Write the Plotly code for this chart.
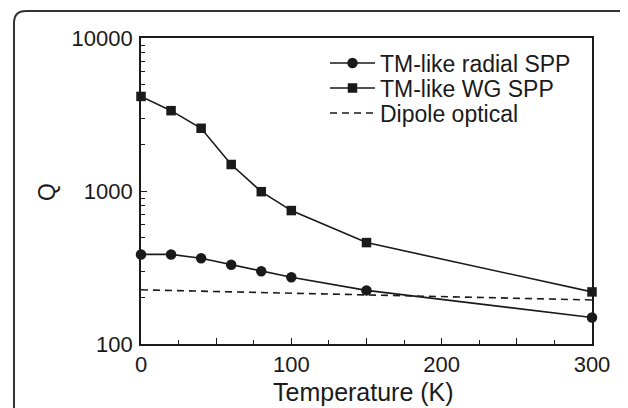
import plotly.graph_objects as go

temps_radial = [0, 20, 40, 60, 80, 100, 150, 300]
q_radial = [385, 385, 363, 330, 299, 273, 224, 149]
temps_wg = [0, 20, 40, 60, 80, 100, 150, 300]
q_wg = [4150, 3350, 2570, 1490, 990, 745, 460, 219]
temps_dipole = [0, 300]
q_dipole = [226, 194]

x_tickvals = [0, 50, 100, 150, 200, 250, 300]
x_ticktext = ["0", "", "100", "", "200", "", "300"]
x_minor = [25, 75, 125, 175, 225, 275]
y_tickvals = [100, 1000, 10000]
y_ticktext = ["100", "1000", "10000"]
y_minor = [200, 300, 400, 500, 600, 700, 800, 900,
           2000, 3000, 4000, 5000, 6000, 7000, 8000, 9000]

# page body has an 8px margin: figure is drawn 8px right/down of window origin
OFF = 8
W, H = 628 - OFF, 408 - OFF
L, R, T, B = 141, 592, 38, 344  # plot area in window pixels
pw, ph = R - L, B - T

def px(x):
    return (x - L) / pw

def py(y):
    return (B - y) / ph

ink = "#1a1a1a"
font = "Liberation Sans, Arial, sans-serif"

fig = go.Figure()
fig.add_trace(go.Scatter(x=temps_radial, y=q_radial, mode="lines+markers",
                         name="TM-like radial SPP", legend="legend",
                         line=dict(color=ink, width=1.6),
                         marker=dict(symbol="circle", size=10.5, color=ink),
                         cliponaxis=False))
fig.add_trace(go.Scatter(x=temps_wg, y=q_wg, mode="lines+markers",
                         name="TM-like WG SPP", legend="legend2",
                         line=dict(color=ink, width=1.6),
                         marker=dict(symbol="square", size=9.5, color=ink),
                         cliponaxis=False))
fig.add_trace(go.Scatter(x=temps_dipole, y=q_dipole, mode="lines",
                         name="Dipole optical", legend="legend3",
                         line=dict(color=ink, width=1.6, dash="7px,5px")))

axis_common = dict(showgrid=False, zeroline=False, showline=True, linecolor=ink,
                   linewidth=1.6, mirror=True, ticks="inside", tickcolor=ink,
                   tickwidth=1.3, ticklen=6,
                   tickfont=dict(family=font, size=22, color=ink))

fig.update_xaxes(range=[0, 300], tickmode="array", tickvals=x_tickvals,
                 ticktext=x_ticktext,
                 minor=dict(tickmode="array", tickvals=x_minor, ticks="inside",
                            ticklen=4, tickcolor=ink, tickwidth=1.3),
                 **axis_common)
fig.update_yaxes(type="log", range=[2, 4], tickmode="array", tickvals=y_tickvals,
                 ticktext=y_ticktext, ticklabelstandoff=2,
                 minor=dict(tickmode="array", tickvals=y_minor, ticks="inside",
                            ticklen=4, tickcolor=ink, tickwidth=1.3),
                 **axis_common)

fig.add_annotation(x=px(47), y=py(192), xref="paper", yref="paper", text="Q",
                   textangle=-90, showarrow=False, xanchor="center",
                   yanchor="middle",
                   font=dict(family=font, size=23, color=ink))
fig.add_annotation(x=px(363), y=py(392), xref="paper", yref="paper",
                   text="Temperature (K)", showarrow=False, xanchor="center",
                   yanchor="middle",
                   font=dict(family=font, size=25, color=ink))

# rounded frame (top-left corner visible)
r = 12
path = (f"M {px(14)},{py(430)} L {px(14)},{py(11 + r)} "
        f"Q {px(14)},{py(11)} {px(14 + r)},{py(11)} L {px(650)},{py(11)}")
fig.add_shape(type="path", path=path, xref="paper", yref="paper",
              line=dict(color="#333333", width=2))

leg_common = dict(x=px(325), xanchor="left", yanchor="middle",
                  font=dict(family=font, size=23, color=ink),
                  bgcolor="rgba(0,0,0,0)", itemwidth=45)

fig.update_layout(
    width=W, height=H,
    margin=dict(l=L - OFF, r=W - (R - OFF), t=T - OFF, b=H - (B - OFF)),
    paper_bgcolor="white", plot_bgcolor="white",
    legend=dict(y=py(63), **leg_common),
    legend2=dict(y=py(88), **leg_common),
    legend3=dict(y=py(113), **leg_common),
    showlegend=True,
)

fig.write_html("out.html")
